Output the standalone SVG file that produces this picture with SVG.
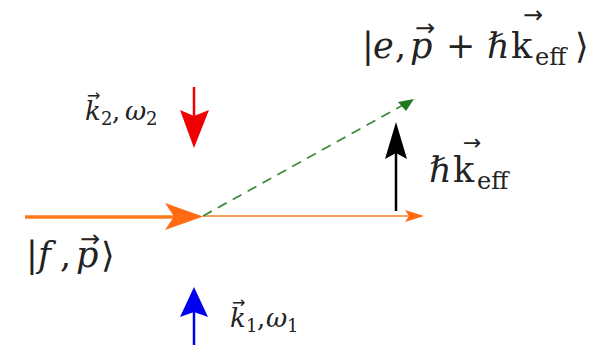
<svg xmlns="http://www.w3.org/2000/svg" width="598" height="345" viewBox="0 0 598 345">
<style>
.t{fill:#222;font-family:"DejaVu Serif","Liberation Serif",serif}
.v{fill:#222;font-family:"DejaVu Sans",sans-serif}
.it{font-style:italic}
</style>
<rect width="598" height="345" fill="#fff"/>
<g id="connectors">
  <line x1="25" y1="217" x2="175" y2="217" stroke="#ff7a1a" stroke-width="3.5"/>
  <path d="M203,216.5 L165,203 L174,216.5 L165,230 Z" fill="#ff6a13"/>
  <line x1="203" y1="216" x2="410" y2="216" stroke="#f5a060" stroke-width="2"/>
  <path d="M424,216 L405,210 L409,216 L405,222 Z" fill="#ff6a13"/>
  <line x1="203" y1="216" x2="405" y2="104" stroke="#3d8a3d" stroke-width="1.8" stroke-dasharray="10,7"/>
  <path d="M414,99 L398,102 L406,111 Z" fill="#1f7a1f"/>
  <line x1="396" y1="211" x2="396" y2="150" stroke="#000" stroke-width="2.5"/>
  <path d="M396,122 L407,159 L396,153 L385,159 Z" fill="#000"/>
  <line x1="194" y1="87" x2="194" y2="120" stroke="#f00000" stroke-width="2.5"/>
  <path d="M194,148 L180,110 L194,116 L209,110 Z" fill="#f00000"/>
  <line x1="194" y1="345" x2="194" y2="310" stroke="#0000f0" stroke-width="2.5"/>
  <path d="M194,287 L180,317 L194,312 L208,317 Z" fill="#0000f0"/>
</g>
<g id="label-excited">
  <text class="t" y="58" font-size="35"><tspan x="362">|</tspan><tspan x="373" class="it">e</tspan><tspan x="395">,</tspan><tspan x="410" class="it">p</tspan><tspan x="446">+</tspan><tspan x="487" class="it">ℏ</tspan><tspan x="511">k</tspan><tspan x="535" font-size="24" dy="7">eff</tspan><tspan x="575" dy="-7">⟩</tspan></text>
  <text class="v" x="415" y="36" font-size="24">→</text>
  <text class="v" x="523" y="23" font-size="24">→</text>
</g>
<g id="label-hkeff">
  <text class="t" y="182" font-size="35"><tspan x="429" class="it">ℏ</tspan><tspan x="453">k</tspan><tspan x="477" font-size="24" dy="7">eff</tspan></text>
  <text class="v" x="463" y="150" font-size="22">→</text>
</g>
<g id="label-ground">
  <text class="t" y="267" font-size="35"><tspan x="26">|</tspan><tspan x="38" class="it">f</tspan><tspan x="60">,</tspan><tspan x="76" class="it">p</tspan><tspan x="101">⟩</tspan></text>
  <text class="v" x="80" y="247" font-size="24">→</text>
</g>
<g id="label-k2">
  <text class="t" y="120" font-size="26"><tspan x="85" class="it">k</tspan><tspan x="101" font-size="18" dy="5">2</tspan><tspan x="112" dy="-5">,</tspan><tspan x="125" class="it">ω</tspan><tspan x="146" font-size="18" dy="5">2</tspan></text>
  <text class="v" x="87" y="101" font-size="16">→</text>
</g>
<g id="label-k1">
  <text class="t" y="327" font-size="26"><tspan x="230" class="it">k</tspan><tspan x="246" font-size="18" dy="5">1</tspan><tspan x="257" dy="-5">,</tspan><tspan x="266" class="it">ω</tspan><tspan x="287" font-size="18" dy="5">1</tspan></text>
  <text class="v" x="232" y="308" font-size="16">→</text>
</g>
</svg>
